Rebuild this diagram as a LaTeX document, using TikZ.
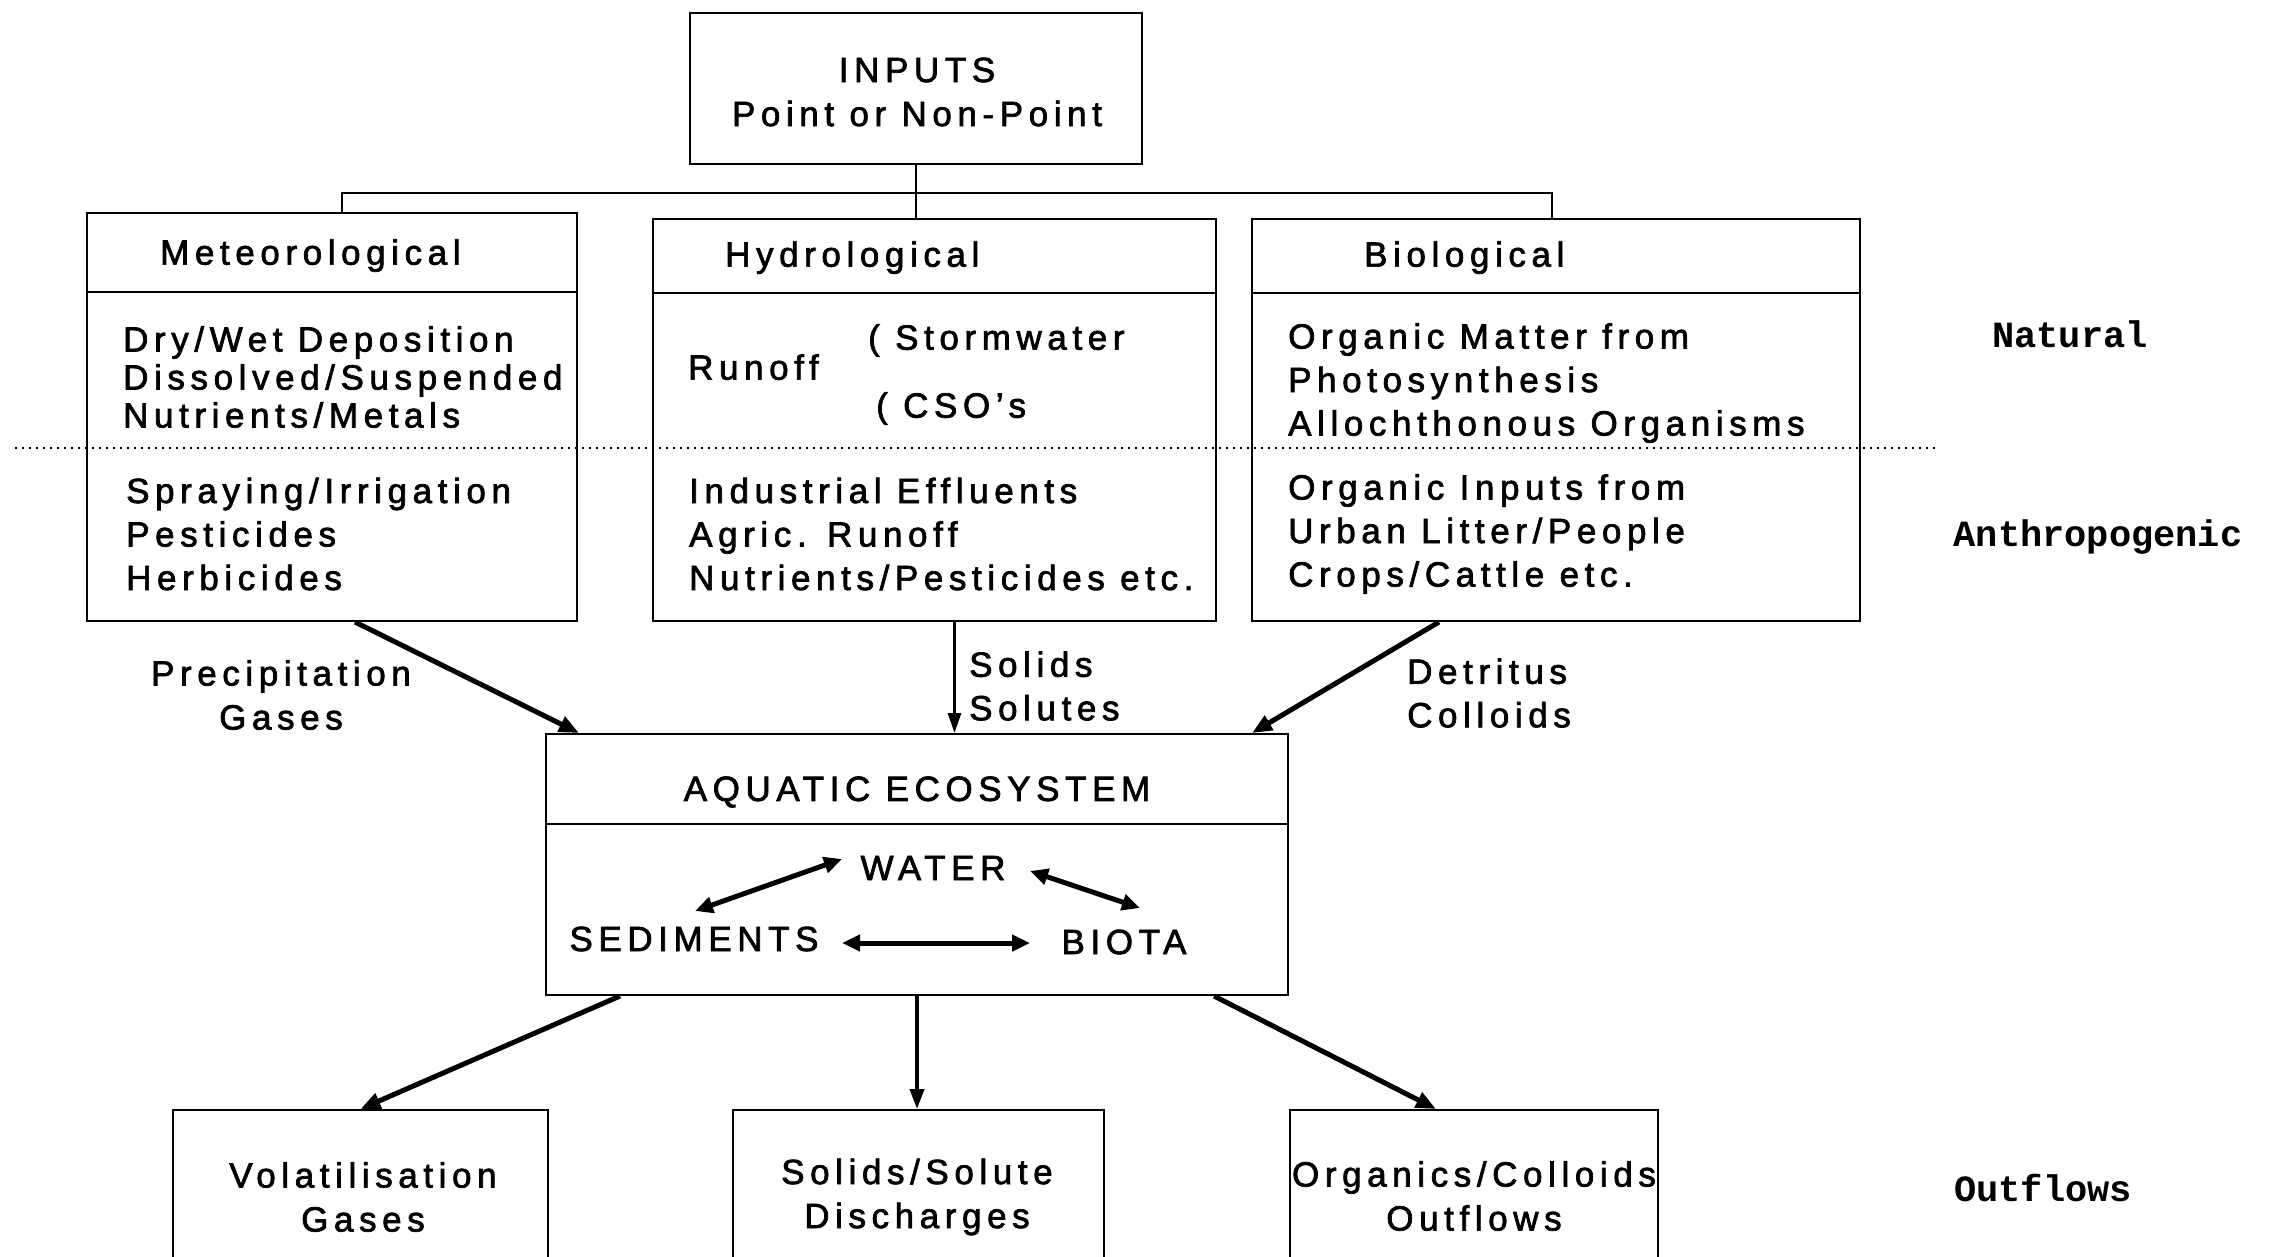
\documentclass[tikz,border=0pt]{standalone}
\usepackage{fontspec}
\setmainfont{Liberation Sans}[LetterSpace=16, FakeBold=2]
\newfontfamily\labfont{Liberation Mono}
\usetikzlibrary{arrows.meta}
\begin{document}
\begin{tikzpicture}[x=1pt,y=-1pt,
  box/.style={draw, line width=2pt, inner sep=0pt},
  txt/.style={inner sep=0pt, align=left, font=\fontsize{35}{38}\selectfont},
  txtw/.style={inner sep=0pt, align=left, font=\fontsize{35}{43.5}\selectfont},
  txtc/.style={inner sep=0pt, align=center, font=\fontsize{35}{44}\selectfont},
  side/.style={inner sep=0pt, font=\fontsize{37}{40}\labfont\bfseries},
  div/.style={line width=2pt},
  flow/.style={-{Triangle[length=20pt,width=16pt]}, line width=5pt},
  flowthin/.style={-{Triangle[length=20pt,width=13pt]}, line width=3pt},
  dbl/.style={{Triangle[length=18pt,width=16pt]}-{Triangle[length=18pt,width=16pt]}, line width=5pt}
]
\useasboundingbox (0,0) rectangle (2275,1257);
\clip (0,0) rectangle (2275,1257);

% top box
\node[box, minimum width=452pt, minimum height=151pt] (inputs) at (916,88.5) {};
\node[txtc] (inputstxt) at (917,92) {INPUTS\\Point or Non-Point};

% three input boxes
\node[box, minimum width=490pt, minimum height=408pt] (met) at (332,417) {};
\node[box, minimum width=563pt, minimum height=402pt] (hydro) at (934.5,420) {};
\node[box, minimum width=608pt, minimum height=402pt] (bio) at (1556,420) {};

\coordinate (metdiv) at (0,292);
\coordinate (hyddiv) at (0,293);
\draw[div] (met.west |- metdiv) -- (met.east |- metdiv);
\draw[div] (hydro.west |- hyddiv) -- (hydro.east |- hyddiv);
\draw[div] (bio.west |- hyddiv) -- (bio.east |- hyddiv);

% tree connector
\coordinate (hy) at (0,193);
\coordinate (hub) at (inputs.south |- hy);
\draw[line width=2pt] (inputs.south) -- (hub) -- (hub |- hydro.north);
\draw[line width=2pt] ([xshift=10pt]met.north) |- (hub) -| ([xshift=-4pt]bio.north);

% dotted natural / anthropogenic separator
\coordinate (dotl) at (15,448);
\coordinate (dotr) at (1937,448);
\draw[line width=1.6pt, dash pattern=on 2pt off 5pt] (dotl) -- (dotr);

% headers
\node[txt, anchor=mid west] (methead) at (160,262) {Meteorological};
\node[txt, anchor=mid west] (hydhead) at (725,264) {Hydrological};
\node[txt, anchor=mid west] (biohead) at (1364,264) {Biological};

% met texts
\node[txt, anchor=west] (metnat) at (123,377) {Dry/Wet Deposition\\Dissolved/Suspended\\Nutrients/Metals};
\node[txtw, anchor=west] (metant) at (126,534) {Spraying/Irrigation\\Pesticides\\Herbicides};

% hydro texts
\node[txt, anchor=mid west] (runoff) at (688,377) {Runoff};
\node[txt, anchor=mid west] (storm) at (868,347) {( Stormwater};
\node[txt, anchor=mid west] (cso) at (876,415) {( CSO's};
\node[txtw, anchor=west] (hydant) at (689,534) {Industrial Effluents\\Agric. Runoff\\Nutrients/Pesticides etc.};

% bio texts
\node[txtw, anchor=west] (bionat) at (1288,383) {Organic Matter from\\Photosynthesis\\Allochthonous Organisms};
\node[txtw, anchor=west] (bioant) at (1288,534) {Organic Inputs from\\Urban Litter/People\\Crops/Cattle etc.};

% side labels
\node[side] (natural) at (2070,334) {Natural};
\node[side] (anthro) at (2098,537) {Anthropogenic};
\node[side] (outfl) at (2043,1188) {Outflows};

% aquatic ecosystem
\node[box, minimum width=742pt, minimum height=261pt] (aq) at (917,864.5) {};
\coordinate (aqdiv) at (0,824);
\draw[div] (aq.west |- aqdiv) -- (aq.east |- aqdiv);
\node[txt] (aqtitle) at (917,792) {AQUATIC ECOSYSTEM};
\node[txt] (water) at (933,868) {WATER};
\node[txt] (sed) at (694,939) {SEDIMENTS};
\node[txt] (biota) at (1124,942) {BIOTA};

\coordinate (wsa) at (842,859);
\coordinate (wsb) at (695,911);
\coordinate (wba) at (1030,871);
\coordinate (wbb) at (1140,908);
\coordinate (sba) at (842,943);
\coordinate (sbb) at (1030,943);
\draw[dbl] (wsa) -- (wsb);
\draw[dbl] (wba) -- (wbb);
\draw[dbl] (sba) -- (sbb);

% input arrows
\draw[flow] ([xshift=23pt]met.south) -- ([xshift=34pt]aq.north west);
\draw[flowthin] ([xshift=20pt]hydro.south) -- ([xshift=20pt]hydro.south |- aq.north);
\draw[flow] ([xshift=-117pt]bio.south) -- ([xshift=-37pt]aq.north east);

\node[txtc] (precip) at (281,695) {Precipitation\\Gases};
\node[txtw, anchor=west] (solids) at (969,686) {Solids\\Solutes};
\node[txtw, anchor=west] (detr) at (1407,693) {Detritus\\Colloids};

% outflow boxes
\node[box, minimum width=375pt, minimum height=170pt] (vol) at (360.5,1195) {};
\node[box, minimum width=371pt, minimum height=170pt] (sol) at (918.5,1195) {};
\node[box, minimum width=368pt, minimum height=170pt] (org) at (1474,1195) {};

\node[txtc] (voltxt) at (363,1197) {Volatilisation\\Gases};
\node[txtc] (soltxt) at (917,1197) {Solids/Solute\\Discharges};
\node[txtc] (orgtxt) at (1474,1196) {Organics/Colloids\\Outflows};

\draw[flow] ([xshift=75pt]aq.south west) -- (vol.north);
\draw[-{Triangle[length=20pt,width=14pt]}, line width=4pt] (aq.south) -- (aq.south |- sol.north);
\draw[flow] ([xshift=-75pt]aq.south east) -- ([xshift=-38pt]org.north);
\end{tikzpicture}
\end{document}
